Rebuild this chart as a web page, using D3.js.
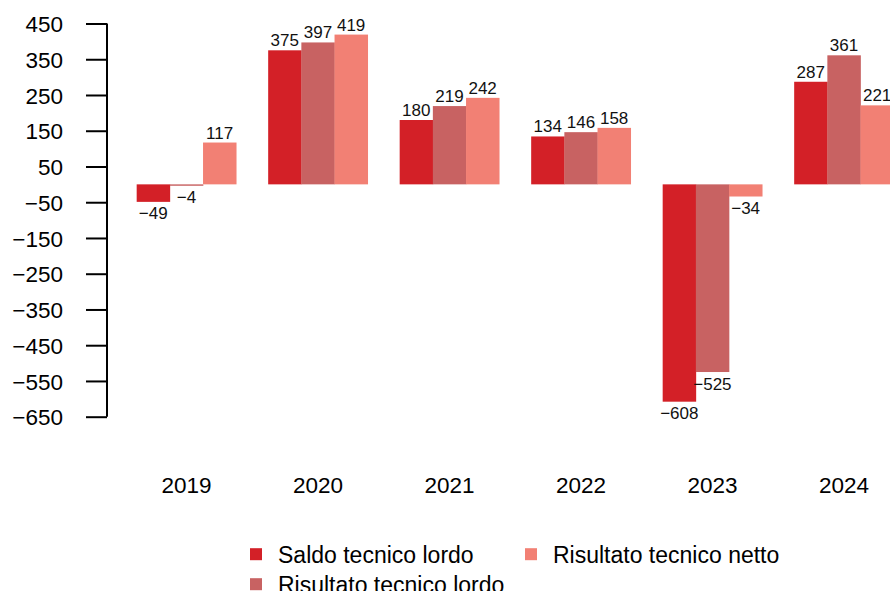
<!DOCTYPE html>
<html>
<head>
<meta charset="utf-8">
<script src="https://cdn.jsdelivr.net/npm/d3@7"></script>
<style>
  body { margin: 0; background: #fff; }
  svg { display: block; font-family: "Liberation Sans", Arial, sans-serif; }
</style>
</head>
<body>
<script>
// chart data
var years = ["2019", "2020", "2021", "2022", "2023", "2024"];
var seriesNames = ["Saldo tecnico lordo", "Risultato tecnico lordo", "Risultato tecnico netto"];
var saldoLordo = [-49, 375, 180, 134, -608, 287];
var risultatoLordo = [-4, 397, 219, 146, -525, 361];
var risultatoNetto = [117, 419, 242, 158, -34, 221];
var yTicks = [450, 350, 250, 150, 50, -50, -150, -250, -350, -450, -550, -650];
var colors = ["#d32027", "#c86262", "#f28074"];

var width = 890,
    height = 591;

var svg = d3.select("body")
  .append("svg")
  .attr("width", width)
  .attr("height", height);

// scales
var y = d3.scaleLinear()
  .domain([-650, 450])
  .range([416.7, 23.5]);

var x = d3.scaleBand()
  .domain(years)
  .range([120.7, 909.7])
  .paddingInner(0.243)
  .paddingOuter(0.1215);

var xSub = d3.scaleBand()
  .domain(seriesNames)
  .range([0, x.bandwidth()]);

// y axis
var yAxis = d3.axisLeft(y)
  .tickValues(yTicks)
  .tickSize(21)
  .tickPadding(23)
  .tickFormat(function(d){ return d < 0 ? "\u2212" + Math.abs(d) : d; });

var gy = svg.append("g")
  .attr("transform", "translate(107,0)")
  .call(yAxis);
gy.select(".domain").attr("stroke", "#000").attr("stroke-width", 2)
  .attr("d", "M0," + y(450) + "V" + y(-650));
gy.selectAll(".tick line").attr("stroke", "#000").attr("stroke-width", 2);
gy.selectAll(".tick text")
  .attr("fill", "#000")
  .style("font-size", "22.5px")
  .attr("dy", "0.36em");

// rows of data per year
var rows = years.map(function(yr, i){
  return { year: yr, values: [saldoLordo[i], risultatoLordo[i], risultatoNetto[i]] };
});

var groups = svg.selectAll(".grp")
  .data(rows)
  .enter()
  .append("g")
  .attr("class", "grp")
  .attr("transform", function(d){ return "translate(" + x(d.year) + ",0)"; });

var cells = groups.selectAll(".cell")
  .data(function(d){
    return d.values.map(function(v, j){ return { name: seriesNames[j], value: v, idx: j }; });
  })
  .enter();

cells.append("rect")
  .attr("x", function(d){ return xSub(d.name); })
  .attr("width", xSub.bandwidth() + 0.3)
  .attr("y", function(d){ return y(Math.max(0, d.value)); })
  .attr("height", function(d){ return Math.abs(y(d.value) - y(0)); })
  .attr("fill", function(d){ return colors[d.idx]; });

cells.append("text")
  .attr("x", function(d){ return xSub(d.name) + xSub.bandwidth() / 2; })
  .attr("y", function(d){
    return d.value >= 0 ? y(d.value) - 4 : y(d.value) + 17.5;
  })
  .attr("text-anchor", "middle")
  .style("font-size", "17px")
  .attr("fill", "#111")
  .text(function(d){ return d.value < 0 ? "\u2212" + Math.abs(d.value) : d.value; });

// year labels
svg.selectAll(".yr")
  .data(years)
  .enter()
  .append("text")
  .attr("class", "yr")
  .attr("x", function(d){ return x(d) + x.bandwidth() / 2; })
  .attr("y", 493.3)
  .attr("text-anchor", "middle")
  .style("font-size", "22.5px")
  .attr("fill", "#000")
  .text(function(d){ return d; });

// legend, two columns filled top to bottom
var legendPos = [
  { sx: 250, ty: 562.7 },
  { sx: 250, ty: 592.7 },
  { sx: 525, ty: 562.7 }
];

var legend = svg.selectAll(".leg")
  .data(seriesNames)
  .enter()
  .append("g")
  .attr("class", "leg");

legend.append("rect")
  .attr("x", function(d, i){ return legendPos[i].sx; })
  .attr("y", function(d, i){ return legendPos[i].ty - 14.5; })
  .attr("width", 12)
  .attr("height", 12)
  .attr("fill", function(d, i){ return colors[i]; });

legend.append("text")
  .attr("x", function(d, i){ return legendPos[i].sx + 28; })
  .attr("y", function(d, i){ return legendPos[i].ty; })
  .style("font-size", "23px")
  .attr("fill", "#000")
  .text(function(d){ return d; });
</script>
</body>
</html>
